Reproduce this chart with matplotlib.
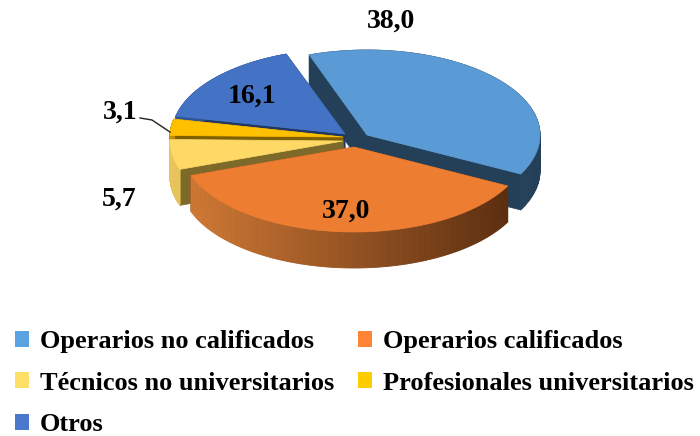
import numpy as np
import matplotlib
matplotlib.use('Agg')
import matplotlib.pyplot as plt
from matplotlib.patches import Polygon, Patch

plt.rcParams['font.family'] = ['Liberation Serif', 'DejaVu Serif']
plt.rcParams['font.weight'] = 'bold'

categories = ['Operarios no calificados', 'Operarios calificados', 'Técnicos no universitarios',
              'Profesionales universitarios', 'Otros']
values = [38.0, 37.0, 5.7, 3.1, 16.1]
value_labels = ['38,0', '37,0', '5,7', '3,1', '16,1']

top_colors = ['#5b9bd5', '#ed7d31', '#ffd966', '#ffc000', '#4472c4']
cut_colors = ['#244059', '#5f3010', '#7d6a2a', '#7f6000', '#1f3864']
wall_left = ['#244059', '#d27a35', '#e8c45c', '#c09000', '#2f5597']
wall_right = ['#244059', '#552a0e', '#b8963c', '#806000', '#1f3864']
legend_colors = ['#5ba3e0', '#ff8438', '#ffe066', '#ffcc00', '#4a78cc']

# where each slice's point ends up in the picture (pixels), exploded pie
apex_x = [367, 354, 343, 343, 345]
apex_y = [135, 147, 141, 137, 134]
rx = 173
ry = 85
depth = 36
start_angle = 109.5
draw_order = [0, 4, 3, 2, 1]

label_x = [391, 346, 119, 120, 252]
label_y = [21, 211, 199, 112, 96]

fig = plt.figure(figsize=(7, 4.36), dpi=100)
ax = fig.add_axes([0, 0, 1, 1])
ax.set_xlim(0, 700)
ax.set_ylim(436, 0)
ax.axis('off')

ends = start_angle - np.cumsum(values) * 3.6
starts = np.concatenate([[start_angle], ends[:-1]])

for i in draw_order:
    angles = np.radians(np.linspace(starts[i], ends[i], 120))
    xs = apex_x[i] + rx * np.cos(angles)
    ys = apex_y[i] - ry * np.sin(angles)

    # cut faces
    for k in [0, -1]:
        face = [(apex_x[i], apex_y[i]), (xs[k], ys[k]), (xs[k], ys[k] + depth), (apex_x[i], apex_y[i] + depth)]
        ax.add_patch(Polygon(face, closed=True, fc=cut_colors[i], ec=cut_colors[i], lw=0.5))

    # outer wall, shaded left to right
    c1 = np.array(matplotlib.colors.to_rgb(wall_left[i]))
    c2 = np.array(matplotlib.colors.to_rgb(wall_right[i]))
    for j in range(len(xs) - 1):
        t = np.clip((xs[j] - (apex_x[i] - rx)) / (2 * rx), 0, 1)
        col = c1 + (c2 - c1) * t
        quad = [(xs[j], ys[j]), (xs[j + 1], ys[j + 1]), (xs[j + 1], ys[j + 1] + depth), (xs[j], ys[j] + depth)]
        ax.add_patch(Polygon(quad, closed=True, fc=col, ec=col, lw=0.6))

    # top face
    pts = [(apex_x[i], apex_y[i])] + list(zip(xs, ys))
    ax.add_patch(Polygon(pts, closed=True, fc=top_colors[i], ec=top_colors[i], lw=0.5))

for i in range(len(values)):
    ax.text(label_x[i], label_y[i], value_labels[i], fontsize=20, ha='center', va='center', color='black')

# leader line for 3,1
ax.plot([140, 152, 170], [118, 120, 132], color='#222222', lw=1)

handles = [Patch(fc=c, ec='none') for c in legend_colors]
order = [0, 2, 4, 1, 3]
ax.legend([handles[k] for k in order], [categories[k] for k in order], ncol=2, frameon=False,
          loc='upper left', bbox_to_anchor=(0.021, 0.243), fontsize=19,
          handlelength=0.55, handleheight=0.55, handletextpad=0.4, labelspacing=0.7,
          columnspacing=0.9, borderpad=0, borderaxespad=0)

fig.savefig('out.png', dpi=100)
